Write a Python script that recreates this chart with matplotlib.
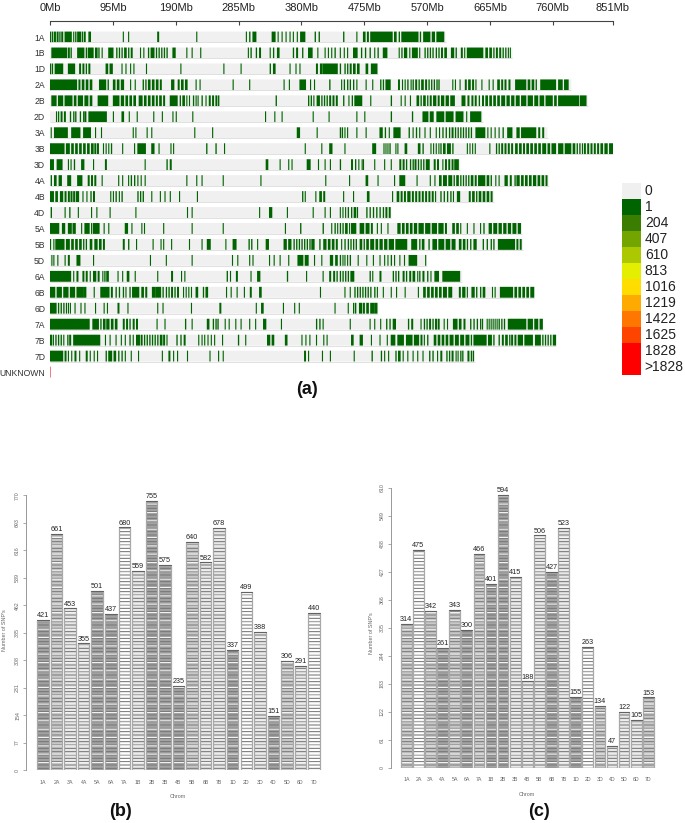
import matplotlib
matplotlib.use("Agg")
import matplotlib.pyplot as plt

plt.rcParams['font.family'] = ['Liberation Sans', 'DejaVu Sans']
plt.rcParams['hatch.linewidth'] = 0.7

W, H = 685, 823

# ---------- panel (a) data: SNP-bearing regions per chromosome (Mb) ----------
chrom_names = ["1A","1B","1D","2A","2B","2D","3A","3B","3D","4A","4B","4D","5A","5B","5D","6A","6B","6D","7A","7B","7D","UNKNOWN"]
chrom_lengths = [598,699,496,788,813,654,752,851,620,754,671,516,713,715,570,623,732,496,745,765,642,1]
mb_ticks = [0,95,190,285,380,475,570,665,760,851]

b1A = [(0,2),(3,5),(6,9),(10,13),(14,16),(17,20),(22,33),(35,36),(38,40),(41,47),(48,50),(51,54),(58,62),(110,111),(118,119),(162,165),(221,222),(296,297),(301,303),(306,312),(335,341),(344,345),(350,351),(356,357),(362,363),(367,368),(373,374),(378,386),(400,402),(406,408),(443,445),(463,464),(473,477),(479,482),(484,518),(520,524),(527,529),(531,557),(559,561),(564,575),(577,582),(584,596)]
b1B = [(2,26),(27,30),(31,33),(41,52),(54,56),(57,66),(68,72),(73,75),(78,79),(88,96),(100,102),(104,106),(108,110),(112,116),(118,120),(122,125),(136,137),(141,142),(148,150),(152,158),(160,162),(164,166),(168,170),(172,174),(176,178),(185,190),(206,207),(214,215),(227,228),(299,300),(303,305),(311,313),(316,319),(332,333),(337,339),(343,347),(367,369),(372,375),(381,383),(390,397),(404,405),(415,416),(420,421),(425,426),(430,432),(438,439),(444,445),(449,450),(458,465),(470,472),(476,478),(483,485),(490,491),(495,497),(503,510),(527,528),(531,533),(535,540),(543,544),(547,556),(558,559),(566,568),(570,572),(574,576),(578,580),(583,585),(587,589),(591,594),(596,600),(606,611),(613,615),(621,624),(626,627),(630,655),(658,662),(664,668),(670,672),(674,677),(679,682),(684,686),(688,690),(692,693),(695,696)]
b1D = [(0,2),(3,4),(7,20),(27,38),(44,47),(49,52),(54,56),(58,61),(84,88),(90,95),(108,109),(114,115),(121,122),(126,127),(145,146),(197,198),(262,263),(288,289),(332,334),(337,341),(362,363),(371,372),(377,378),(402,405),(408,412),(412,435),(438,440),(445,447),(449,451),(453,456),(458,462),(464,468),(477,481),(485,495)]
b2A = [(0,41),(43,46),(48,52),(54,58),(60,64),(74,85),(87,89),(95,99),(101,105),(107,112),(121,122),(128,129),(140,142),(144,146),(148,152),(154,158),(160,164),(166,169),(183,188),(193,196),(198,202),(204,208),(220,221),(226,227),(276,277),(301,302),(353,354),(361,362),(377,387),(393,394),(399,400),(422,424),(440,441),(444,446),(449,451),(453,455),(458,460),(463,464),(477,478),(487,488),(499,501),(503,505),(507,515),(526,529),(532,533),(536,537),(540,542),(545,546),(548,550),(552,555),(557,559),(561,565),(567,570),(572,574),(576,578),(580,582),(584,586),(587,589),(608,609),(612,613),(619,620),(627,630),(632,636),(638,641),(643,644),(652,653),(663,664),(669,670),(676,680),(682,685),(687,690),(693,696),(703,720),(722,726),(728,732),(734,736),(741,765),(768,775),(777,784)]
b2B = [(2,10),(12,20),(22,34),(36,40),(42,50),(52,58),(60,64),(72,88),(95,105),(107,112),(114,118),(120,124),(126,130),(134,140),(142,146),(148,152),(154,158),(160,163),(165,169),(171,174),(181,193),(196,198),(200,204),(206,207),(210,211),(216,218),(220,221),(223,224),(229,231),(235,236),(240,243),(245,248),(250,253),(254,256),(341,343),(390,392),(394,396),(398,399),(403,408),(410,412),(414,416),(418,420),(422,425),(427,430),(432,435),(443,445),(451,452),(456,458),(460,472),(484,485),(515,517),(530,531),(536,537),(544,545),(554,558),(560,562),(564,568),(570,572),(574,577),(579,584),(586,589),(591,596),(598,603),(605,612),(622,628),(631,634),(637,640),(642,645),(648,650),(653,656),(658,662),(664,668),(670,674),(676,680),(682,688),(690,695),(697,702),(704,710),(712,720),(722,730),(732,738),(740,747),(749,760),(762,766),(768,800),(801,811)]
b2D = [(9,10),(12,14),(16,19),(21,24),(30,32),(35,37),(38,40),(45,47),(50,52),(52,55),(58,86),(95,96),(108,112),(119,120),(131,132),(156,157),(169,170),(185,186),(190,191),(215,216),(325,326),(339,340),(350,351),(397,398),(421,422),(463,464),(475,476),(515,517),(547,549),(563,572),(574,580),(584,596),(598,610),(613,625),(629,630),(635,652)]
b3A = [(1,2),(6,27),(32,46),(50,62),(68,69),(77,78),(125,126),(129,130),(146,147),(153,154),(218,219),(245,246),(373,378),(403,404),(438,440),(441,443),(445,446),(449,450),(463,464),(477,478),(498,503),(506,508),(512,513),(519,530),(542,544),(548,549),(553,555),(558,559),(566,567),(574,575),(583,584),(588,589),(593,595),(598,600),(603,605),(607,610),(612,614),(616,618),(620,622),(624,626),(628,630),(632,634),(636,638),(643,658),(661,662),(666,667),(672,673),(678,679),(684,686),(691,699),(705,710),(712,735),(738,741),(744,747)]
b3B = [(0,22),(24,30),(32,36),(38,42),(44,48),(50,54),(56,60),(62,66),(67,70),(71,74),(80,81),(84,85),(88,89),(92,94),(109,110),(127,128),(132,145),(153,158),(164,165),(182,183),(186,187),(236,238),(250,252),(263,264),(385,386),(410,411),(422,427),(445,446),(487,493),(504,505),(507,508),(510,511),(513,515),(522,523),(525,526),(536,540),(556,560),(563,565),(575,576),(579,580),(583,584),(587,588),(590,592),(594,598),(600,606),(608,610),(630,631),(634,635),(638,639),(642,643),(664,665),(674,676),(678,680),(682,685),(687,690),(692,695),(697,700),(703,707),(709,713),(715,718),(720,724),(726,730),(732,736),(738,742),(744,750),(752,756),(758,765),(768,776),(778,788),(790,794),(796,798),(800,802),(804,805),(807,810),(812,815),(817,820),(822,825),(827,830),(832,836),(838,843),(845,851)]
b3D = [(0,6),(10,19),(27,28),(31,32),(36,38),(47,52),(65,66),(83,86),(143,144),(176,178),(181,184),(326,330),(347,348),(360,361),(365,366),(388,394),(405,406),(415,416),(423,424),(438,440),(455,458),(461,463),(466,467),(471,472),(473,474),(490,491),(505,506),(515,516),(528,531),(533,536),(538,540),(544,546),(548,550),(551,554),(556,558),(560,562),(564,566),(568,574),(580,583),(585,588),(593,594),(597,600),(602,605),(607,610),(611,618)]
b4A = [(1,3),(6,10),(13,18),(26,32),(41,49),(57,60),(62,65),(67,70),(78,79),(103,104),(109,110),(118,119),(122,124),(127,129),(132,133),(137,138),(143,144),(206,207),(221,222),(229,230),(261,262),(318,319),(416,417),(452,453),(477,481),(495,496),(520,521),(528,537),(554,555),(574,575),(581,582),(588,592),(594,600),(602,608),(610,612),(614,618),(620,622),(624,626),(628,630),(632,634),(636,640),(642,645),(647,658),(660,664),(666,668),(673,674),(678,679),(687,692),(695,698),(702,704),(705,710),(712,716),(718,722),(724,728),(730,735),(737,741),(743,747),(749,752)]
b4B = [(0,6),(8,12),(15,20),(22,25),(27,30),(31,34),(35,38),(39,44),(49,50),(55,56),(61,63),(65,68),(91,92),(95,96),(99,101),(104,105),(108,110),(132,134),(136,138),(140,142),(153,154),(166,167),(173,174),(181,182),(195,196),(222,223),(381,383),(385,386),(401,402),(407,411),(413,416),(443,444),(458,459),(479,483),(517,518),(524,528),(530,533),(535,538),(540,545),(547,550),(552,555),(557,560),(562,565),(567,570),(572,575),(577,580),(582,583),(590,592),(595,597),(600,602),(605,607),(609,610),(615,620),(633,636),(638,642),(644,646),(648,652),(654,658),(660,664),(666,669)]
b4D = [(1,3),(22,23),(29,31),(42,43),(62,63),(70,71),(90,91),(129,130),(207,208),(214,215),(316,317),(331,336),(358,359),(397,398),(415,416),(423,424),(438,439),(442,443),(446,447),(450,452),(455,457),(459,463),(464,465),(478,480),(483,485),(488,490),(493,495),(498,500),(503,505),(507,510),(512,515)]
b5A = [(0,14),(18,23),(27,33),(34,39),(47,48),(52,60),(62,64),(65,75),(81,82),(88,89),(113,118),(123,124),(138,139),(142,143),(171,172),(214,215),(261,262),(355,356),(378,380),(412,414),(425,426),(430,432),(434,435),(438,440),(442,444),(446,450),(452,453),(455,463),(468,475),(477,483),(485,488),(494,495),(500,501),(510,511),(525,530),(532,536),(538,542),(544,548),(550,555),(557,565),(567,575),(577,585),(587,595),(597,600),(608,612),(614,618),(620,621),(630,631),(640,641),(650,651),(655,657),(663,668),(670,676),(678,683),(685,690),(692,697),(699,705),(707,712)]
b5B = [(0,1),(5,6),(8,22),(24,30),(32,36),(38,42),(44,48),(50,52),(54,56),(60,64),(67,72),(74,78),(80,83),(110,113),(118,120),(130,131),(155,156),(167,168),(171,172),(183,184),(210,211),(229,230),(237,243),(265,266),(276,282),(300,302),(304,306),(313,314),(326,331),(353,358),(360,365),(368,370),(372,374),(376,378),(380,382),(384,386),(388,390),(392,394),(395,400),(407,409),(413,418),(420,424),(426,430),(432,435),(440,441),(445,447),(450,452),(454,456),(458,460),(462,464),(468,472),(474,476),(478,482),(484,490),(492,496),(498,503),(505,510),(512,520),(522,540),(546,555),(558,560),(562,566),(572,574),(578,585),(587,596),(598,605),(607,613),(618,622),(624,628),(630,632),(635,637),(640,645),(654,656),(660,662),(666,668),(670,672),(677,703),(705,708),(710,713)]
b5D = [(2,3),(5,6),(11,12),(22,23),(27,30),(40,46),(65,66),(151,152),(175,176),(214,215),(275,276),(283,284),(301,302),(306,307),(331,332),(338,339),(347,348),(360,361),(374,383),(385,391),(399,400),(410,411),(423,428),(431,435),(438,440),(442,443),(445,446),(449,450),(453,455),(465,466),(478,479),(488,489),(498,499),(505,506),(510,511),(515,517),(520,521),(528,529),(535,536),(542,555),(567,568)]
b6A = [(0,32),(35,36),(40,43),(49,52),(54,57),(60,61),(65,70),(72,75),(79,80),(82,84),(85,89),(102,103),(109,110),(116,120),(128,129),(162,163),(183,186),(198,199),(203,204),(267,269),(272,273),(281,284),(303,304),(313,318),(358,360),(387,388),(412,413),(422,425),(428,431),(433,435),(438,440),(442,444),(446,448),(450,452),(454,460),(483,485),(487,488),(498,501),(518,520),(522,524),(526,528),(533,536),(538,540),(543,546),(548,552),(555,556),(558,560),(563,566),(570,572),(575,576),(581,588),(593,620)]
b6B = [(0,8),(10,18),(20,28),(30,38),(40,50),(50,55),(66,67),(76,90),(92,95),(99,101),(104,106),(110,112),(114,115),(120,122),(124,135),(138,142),(144,147),(154,160),(160,168),(170,172),(175,177),(179,181),(183,186),(188,190),(192,195),(201,202),(205,206),(209,210),(213,214),(220,224),(231,233),(235,239),(266,267),(273,274),(282,283),(293,294),(302,305),(316,320),(408,409),(445,446),(453,454),(460,462),(464,466),(468,470),(472,474),(476,478),(480,482),(484,486),(490,492),(494,495),(503,504),(515,516),(523,524),(536,537),(556,557),(564,568),(570,574),(576,580),(582,586),(588,592),(594,600),(602,608),(618,621),(623,628),(630,631),(637,642),(644,646),(650,652),(654,658),(668,669),(672,673),(680,700),(702,706),(708,712),(714,718),(720,724),(726,732)]
b6D = [(0,10),(12,14),(16,18),(20,22),(24,25),(27,28),(30,31),(37,38),(46,47),(52,53),(68,69),(81,82),(86,87),(102,105),(117,118),(162,163),(170,171),(213,214),(256,259),(311,312),(319,323),(352,353),(369,370),(376,377),(430,431),(450,451),(458,460),(461,463),(467,472),(473,476),(478,482),(484,490),(490,495)]
b7A = [(0,60),(64,74),(76,78),(80,84),(85,90),(92,96),(98,102),(110,113),(115,118),(120,122),(125,128),(130,133),(161,162),(173,174),(204,206),(214,215),(237,241),(246,248),(250,252),(253,255),(264,265),(270,271),(280,281),(288,289),(301,302),(310,311),(322,327),(349,350),(402,404),(407,409),(412,413),(453,454),(483,484),(490,491),(499,500),(508,510),(513,515),(518,523),(541,543),(546,549),(560,561),(565,567),(569,571),(573,576),(578,580),(582,585),(586,589),(595,596),(600,601),(609,616),(618,622),(625,628),(635,637),(640,642),(645,647),(650,652),(653,654),(660,661),(663,664),(666,667),(669,670),(672,673),(675,676),(678,680),(682,684),(686,688),(692,720),(722,730),(732,738),(740,745)]
b7B = [(0,3),(4,6),(8,10),(12,14),(16,18),(20,21),(26,28),(29,32),(35,76),(83,84),(90,91),(99,100),(107,108),(113,114),(120,122),(125,126),(130,136),(137,140),(142,144),(146,148),(150,152),(154,156),(158,160),(162,164),(166,170),(171,174),(176,177),(191,193),(197,199),(202,205),(224,225),(229,230),(233,234),(238,239),(243,244),(248,249),(260,261),(284,286),(295,296),(328,333),(335,339),(355,359),(380,381),(386,387),(392,393),(402,403),(413,414),(418,419),(455,459),(468,473),(485,486),(498,499),(509,510),(515,522),(525,535),(538,548),(550,558),(560,563),(565,566),(570,572),(580,584),(586,590),(592,596),(598,602),(604,610),(612,618),(620,626),(628,634),(636,638),(640,660),(662,668),(670,672),(678,680),(683,686),(688,692),(694,696),(697,700),(702,705),(707,715),(717,730),(733,742),(744,746),(748,750),(752,754),(756,758),(760,765)]
b7D = [(0,20),(22,25),(27,28),(32,33),(37,40),(44,45),(54,57),(60,61),(66,67),(71,72),(84,86),(88,94),(96,100),(103,105),(108,110),(113,114),(122,123),(133,134),(169,170),(179,182),(186,187),(192,193),(207,208),(241,242),(254,255),(261,262),(384,387),(390,391),(411,412),(423,424),(459,460),(486,488),(500,502),(505,506),(511,512),(522,524),(526,530),(533,534),(540,541),(548,549),(555,556),(563,564),(573,575),(578,580),(585,586),(590,593),(599,601),(603,605),(607,610),(613,614),(616,617),(620,622),(623,625),(631,634),(636,638),(639,641)]
chrom_bands = [b1A,b1B,b1D,b2A,b2B,b2D,b3A,b3B,b3D,b4A,b4B,b4D,b5A,b5B,b5D,b6A,b6B,b6D,b7A,b7B,b7D]

legend_labels = ["0","1","204","407","610","813","1016","1219","1422","1625","1828",">1828"]
legend_colors = ["#f0f0f0","#006400","#3a7d00","#72a500","#abc800","#e3ee00","#ffdd00","#ffaa00","#ff7700","#ff4400","#ff0000","#ff0000"]

# ---------- panels (b), (c) data ----------
bar_cats = ["1A","2A","3A","4A","5A","6A","7A","1B","2B","3B","4B","5B","6B","7B","1D","2D","3D","4D","5D","6D","7D"]
vals_b = [421,661,453,355,501,437,680,559,755,575,235,640,582,678,337,499,388,151,306,291,440]
vals_c = [314,475,342,261,343,300,466,401,594,415,188,506,427,523,155,263,134,47,122,105,153]
ticks_b = [0,77,154,231,308,385,462,539,616,693,770]
ticks_c = [0,61,122,183,244,305,366,427,488,549,610]
# overall grey character of each stripy bar: 0 = white with dark lines, 3 = dark
shade_b = [3,2,1,1,3,3,0,1,3,3,3,2,1,1,3,0,1,3,2,1,0]
shade_c = [2,0,2,3,2,3,2,3,3,1,1,1,3,1,3,0,2,1,1,1,2]
face_by_shade = ["#ffffff","#e8e8e8","#c8c8c8","#a2a2a2"]
line_by_shade = ["#6a6a6a","#707070","#767676","#747474"]


def axes_px(x0, y0, x1, y1):
    return fig.add_axes([x0/W, 1-y1/H, (x1-x0)/W, (y1-y0)/H])


fig = plt.figure(figsize=(W/100, H/100), dpi=100)

# ---------- (a) ideogram ----------
ax = axes_px(50, 21.05, 613, 388)
ax.set_xlim(0, 851)
ax.set_ylim(22, -1)
for i, (name, length) in enumerate(zip(chrom_names, chrom_lengths)):
    if name == "UNKNOWN":
        ax.broken_barh([(0, 1.5)], (i-0.34, 0.68), facecolor="#f08080", edgecolor="none", snap=False)
        continue
    ax.broken_barh([(0, length)], (i-0.34, 0.68), facecolor="#f0f0f0", edgecolor="none", snap=False)
    ax.plot([0, length], [i+0.34, i+0.34], color="#dcdcdc", lw=0.6, solid_capstyle="butt")
    ax.broken_barh([(s, max(e-s, 1.7)) for s, e in chrom_bands[i]], (i-0.34, 0.68),
                   facecolor="#006400", edgecolor="none", snap=False, antialiased=True)
for s in ["left", "right", "bottom"]:
    ax.spines[s].set_visible(False)
ax.spines["top"].set_color("#444444")
ax.spines["top"].set_linewidth(0.8)
ax.xaxis.tick_top()
ax.set_xticks(mb_ticks, [f"{t}Mb" for t in mb_ticks], fontsize=8, color="#222222")
ax.tick_params(axis="x", direction="in", length=3, width=0.8, color="#444444", pad=5.5)
ax.set_yticks(range(len(chrom_names)), chrom_names, fontsize=6.2, color="#333333")
ax.tick_params(axis="y", length=0, pad=3.5)

# legend
lg = axes_px(622, 182.5, 641, 375)
lg.set_xlim(0, 1)
lg.set_ylim(len(legend_labels), 0)
lg.axis("off")
for i, (lab, col) in enumerate(zip(legend_labels, legend_colors)):
    lg.barh(i+0.5, 1, height=1, color=col, edgecolor="none")
    lg.text(1.2, i+0.5, lab, va="center", ha="left", fontsize=10, color="#222222", clip_on=False)


def bar_panel(vals, ticks, shades, box, first, step, width, tick_pad):
    x0, y0, x1, y1 = box
    a = axes_px(x0, y0, x1, y1)
    a.set_xlim((x0-first)/step, (x1-first)/step)
    a.set_ylim(0, ticks[-1])
    xs = list(range(len(vals)))
    w = width/step
    for x, v, sh in zip(xs, vals, shades):
        a.bar(x, v, width=w, facecolor=face_by_shade[sh], edgecolor=line_by_shade[sh],
              hatch="-----", linewidth=0)
        a.bar(x, v, width=w, facecolor="none", edgecolor="#f4f4f4", hatch="--", linewidth=0)
        a.bar(x, v, width=w, facecolor="none", edgecolor="#a8a8a8", linewidth=0.9)
        a.plot([x-w/2, x+w/2], [v, v], color="#555555", lw=0.6)
        a.annotate(str(v), (x, v), xytext=(0, 0.6), textcoords="offset points",
                   ha="center", va="bottom", fontsize=5.2, color="#222222")
    for s in ["top", "right", "bottom"]:
        a.spines[s].set_visible(False)
    a.spines["left"].set_bounds(0, ticks[-1])
    a.spines["left"].set_color("#888888")
    a.spines["left"].set_linewidth(0.6)
    a.set_yticks(ticks, [str(t) for t in ticks], rotation=90, va="center",
                 fontsize=3.8, color="#666666")
    a.tick_params(axis="y", length=2.2, width=0.5, color="#888888", pad=tick_pad)
    a.set_xticks(xs, bar_cats, fontsize=3.8, color="#666666")
    a.tick_params(axis="x", length=0, pad=7)
    return a


bar_panel(vals_b, ticks_b, shade_b, (26, 495.4, 330, 770), 43, 13.55, 11.5, 2)
bar_panel(vals_c, ticks_c, shade_c, (390.7, 487.7, 665, 767.7), 406.3, 12.1, 10.7, 2)


def fig_text(x, y, s, **kw):
    fig.text(x/W, 1-y/H, s, ha="center", va="center", **kw)


fig_text(178, 796.7, "Chrom", fontsize=3.9, color="#666666")
fig_text(5, 630, "Number of SNP's", fontsize=3.9, color="#666666", rotation=90)
fig_text(527, 794, "Chrom", fontsize=3.9, color="#666666")
fig_text(371, 633, "Number of SNP's", fontsize=3.9, color="#666666", rotation=90)
fig_text(307, 390, "(a)", fontsize=13, fontweight="bold", color="#111111")
fig_text(120, 812, "(b)", fontsize=13, fontweight="bold", color="#111111")
fig_text(539, 812, "(c)", fontsize=13, fontweight="bold", color="#111111")

fig.savefig("out.png", dpi=100)
